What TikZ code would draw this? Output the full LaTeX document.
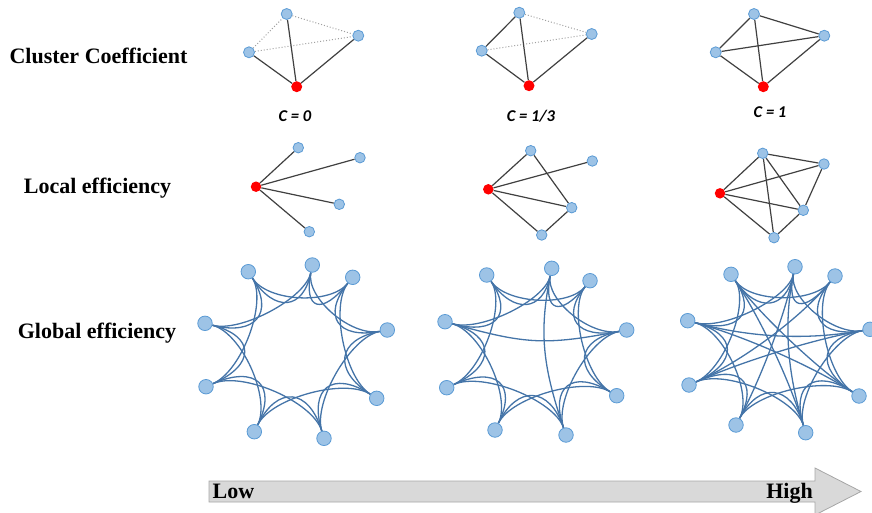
\documentclass[tikz,border=0pt]{standalone}
\usepackage{fontspec}
\setmainfont{Liberation Serif}
\newfontfamily\calib{Carlito}
\usetikzlibrary{calc,backgrounds}
\definecolor{nfill}{HTML}{9DC3E6}
\definecolor{ndraw}{HTML}{5B9BD5}
\definecolor{gline}{HTML}{4474A8}
\definecolor{eline}{HTML}{404040}
\definecolor{dline}{HTML}{A0A0A0}
\definecolor{afill}{HTML}{D9D9D9}
\definecolor{adraw}{HTML}{A6A6A6}
\tikzset{
  bnode/.style={circle,fill=nfill,draw=ndraw,line width=0.8pt,minimum size=11pt,inner sep=0pt},
  rnode/.style={circle,fill=red,minimum size=11pt,inner sep=0pt},
  lbnode/.style={bnode,minimum size=10.5pt},
  lrnode/.style={rnode,minimum size=10.5pt},
  gnode/.style={bnode,minimum size=14.5pt},
  sedge/.style={draw=eline,line width=1.2pt},
  dedge/.style={draw=dline,line width=1pt,dotted},
  gedge/.style={draw=gline,line width=1.3pt},
  rowlabel/.style={font=\bfseries\fontsize{22}{26}\selectfont,anchor=base},
  clabel/.style={font=\calib\bfseries\itshape\fontsize{16.5}{19}\selectfont},
  alabel/.style={font=\bfseries\fontsize{22}{26}\selectfont,anchor=base}
}
\newcommand\gcurve[4]{\draw[gedge] (#1) .. controls ($(#1)!#4!(#3)$) and ($(#2)!#4!(#3)$) .. (#2);}
\begin{document}
\begin{tikzpicture}[x=1pt,y=-1pt]
\useasboundingbox (0,0) rectangle (872,512);
% row labels
\node[rowlabel] (lab1) at (98.5,63) {Cluster Coefficient};
\node[rowlabel] (lab2) at (97.5,193) {Local efficiency};
\node[rowlabel] (lab3) at (97,338) {Global efficiency};
% ---------- cluster coefficient ----------
\node[bnode] (c1t) at (286.7,14) {};
\node[bnode] (c1r) at (358.3,35.7) {};
\node[bnode] (c1l) at (249,52.3) {};
\node[rnode] (c1c) at (296.7,86.7) {};
\node[bnode] (c2t) at (519.3,12.7) {};
\node[bnode] (c2r) at (591.7,34) {};
\node[bnode] (c2l) at (481.7,50.7) {};
\node[rnode] (c2c) at (529,85.7) {};
\node[bnode] (c3t) at (754,14) {};
\node[bnode] (c3r) at (824.3,35.7) {};
\node[bnode] (c3l) at (715.7,52.3) {};
\node[rnode] (c3c) at (763.3,86.7) {};
\node[clabel] (cl1) at (295,116) {C = 0};
\node[clabel] (cl2) at (531,116.5) {C = 1/3};
\node[clabel] (cl3) at (770,112.5) {C = 1};
% ---------- local efficiency ----------
\node[lrnode] (l1c) at (256,186.7) {};
\node[lbnode] (l1a) at (298.3,147.7) {};
\node[lbnode] (l1b) at (360,157.7) {};
\node[lbnode] (l1d) at (339.3,204.3) {};
\node[lbnode] (l1e) at (309.3,231.7) {};
\node[lrnode] (l2c) at (488.3,189.3) {};
\node[lbnode] (l2a) at (530.7,150.7) {};
\node[lbnode] (l2b) at (592.3,161) {};
\node[lbnode] (l2d) at (571.7,207.7) {};
\node[lbnode] (l2e) at (541.7,235) {};
\node[lrnode] (l3c) at (720,193.3) {};
\node[lbnode] (l3a) at (762.7,153.3) {};
\node[lbnode] (l3b) at (824,164) {};
\node[lbnode] (l3d) at (803.3,210.3) {};
\node[lbnode] (l3e) at (774,237.7) {};
% ---------- global efficiency ----------
\foreach \n/\x/\y in {0/248.3/271.7,1/312.3/265,2/352.7/277.3,3/387.3/330,4/376.7/398.3,5/324/438.3,6/254.3/431.7,7/206/386.7,8/205/323.3}
  {\node[gnode] (g1n\n) at (\x,\y) {};}
\foreach \n/\x/\y in {0/486.7/275,1/551.7/268.3,2/590/280.7,3/626.7/330,4/616.7/395.7,5/566/435,6/495/430,7/446.7/387.7,8/445/321.7}
  {\node[gnode] (g2n\n) at (\x,\y) {};}
\foreach \n/\x/\y in {0/731/274.3,1/795/266.7,2/835/276,3/870/329.3,4/859/396,5/805.7/432.7,6/736/425,7/689/385,8/687.7/320.7}
  {\node[gnode] (g3n\n) at (\x,\y) {};}
\coordinate (g1c) at (296.3,346.9);
\coordinate (g2c) at (536.1,347.1);
\coordinate (g3c) at (778.7,345.1);
% arrow
\fill[afill,draw=adraw,line width=0.8pt] (209,481) -- (815,481) -- (815,468) -- (861,491.5) -- (815,515) -- (815,502) -- (209,502) -- cycle;
\node[alabel] (low) at (233.5,498.5) {Low};
\node[alabel] (high) at (789.5,498.5) {High};
\begin{pgfonlayer}{background}
% cluster edges
\draw[dedge] (c1l) -- (c1t);
\draw[dedge] (c1t) -- (c1r);
\draw[dedge] (c1l) -- (c1r);
\draw[sedge] (c1t) -- (c1c);
\draw[sedge] (c1l) -- (c1c);
\draw[sedge] (c1r) -- (c1c);
\draw[dedge] (c2t) -- (c2r);
\draw[dedge] (c2l) -- (c2r);
\draw[sedge] (c2l) -- (c2t);
\draw[sedge] (c2t) -- (c2c);
\draw[sedge] (c2l) -- (c2c);
\draw[sedge] (c2r) -- (c2c);
\draw[sedge] (c3t) -- (c3r);
\draw[sedge] (c3l) -- (c3r);
\draw[sedge] (c3l) -- (c3t);
\draw[sedge] (c3t) -- (c3c);
\draw[sedge] (c3l) -- (c3c);
\draw[sedge] (c3r) -- (c3c);
% local edges
\foreach \t in {a,b,d,e} {\draw[sedge] (l1c) -- (l1\t);}
\foreach \t in {a,b,d,e} {\draw[sedge] (l2c) -- (l2\t);}
\draw[sedge] (l2a) -- (l2d);
\draw[sedge] (l2d) -- (l2e);
\foreach \t in {a,b,d,e} {\draw[sedge] (l3c) -- (l3\t);}
\draw[sedge] (l3a) -- (l3b);
\draw[sedge] (l3a) -- (l3d);
\draw[sedge] (l3a) -- (l3e);
\draw[sedge] (l3b) -- (l3d);
\draw[sedge] (l3d) -- (l3e);
% global lattice edges
\foreach \g in {1,2,3}{
  \foreach \i in {0,...,8}{
    \pgfmathtruncatemacro\j{mod(\i+1,9)}
    \pgfmathtruncatemacro\k{mod(\i+2,9)}
    \gcurve{g\g n\i}{g\g n\j}{g\g c}{0.55}
    \gcurve{g\g n\i}{g\g n\k}{g\g c}{0.4}
  }
}
% long-range edges
\gcurve{g2n8}{g2n3}{g2c}{0.9}
\gcurve{g2n1}{g2n5}{g2c}{0.8}
\gcurve{g3n8}{g3n3}{g3c}{0.7}
\gcurve{g3n8}{g3n4}{g3c}{0.6}
\gcurve{g3n7}{g3n3}{g3c}{0.6}
\gcurve{g3n7}{g3n2}{g3c}{0.6}
\gcurve{g3n0}{g3n4}{g3c}{0.5}
\gcurve{g3n0}{g3n5}{g3c}{0.6}
\gcurve{g3n1}{g3n6}{g3c}{0.6}
\gcurve{g3n1}{g3n5}{g3c}{0.7}
\end{pgfonlayer}
\end{tikzpicture}
\end{document}
